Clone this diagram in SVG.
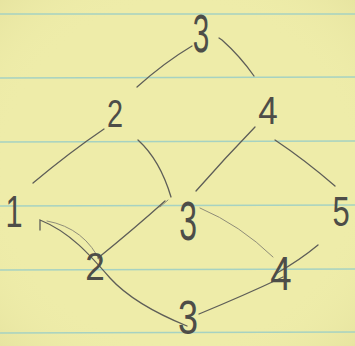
<svg xmlns="http://www.w3.org/2000/svg" width="355" height="346" viewBox="0 0 355 346">
<defs>
<style>
.paper{fill:#eeeca9}
.rule{stroke:#a6d2c2;stroke-width:1.3}
.num{font-family:"Liberation Sans",Arial,sans-serif;fill:#4d4d48;text-anchor:middle}
.pen{fill:none;stroke:#5e5e58;stroke-width:1.3;stroke-linecap:round}
.light{fill:none;stroke:#8f8d78;stroke-width:1;stroke-linecap:round}
</style>
<radialGradient id="g" cx="50%" cy="50%" r="75%">
<stop offset="0.65" stop-color="#eeeca8" stop-opacity="0"/>
<stop offset="1" stop-color="#d8d48e" stop-opacity="0.45"/>
</radialGradient>
</defs>
<rect class="paper" x="0" y="0" width="355" height="346"/>
<rect x="0" y="0" width="355" height="346" fill="url(#g)"/>
<g id="rules">
<line class="rule" x1="0" y1="14" x2="355" y2="14"/>
<line class="rule" x1="0" y1="78" x2="355" y2="77"/>
<line class="rule" x1="0" y1="142" x2="355" y2="141"/>
<line class="rule" x1="0" y1="206" x2="355" y2="205"/>
<line class="rule" x1="0" y1="270" x2="355" y2="269"/>
<line class="rule" x1="0" y1="333" x2="355" y2="332"/>
</g>
<g id="connectors">
<path class="pen" d="M137,87 Q165,62 192,46"/>
<path class="pen" d="M219,38 L222,40 Q240,56 254,76"/>
<path class="pen" d="M104,129 Q70,152 33,183"/>
<path class="pen" d="M138,140 Q160,160 171,197"/>
<path class="pen" d="M255,127 Q225,158 196,191"/>
<path class="pen" d="M275,140 Q305,160 335,186"/>
<path class="pen" d="M40,230 L40,220 C70,232 90,255 110,278 C130,300 160,315 187,326"/>
<path class="light" d="M47,221 Q85,228 101,263"/>
<path class="pen" d="M98,258 Q135,228 165,201"/>
<path class="light" d="M160,207 L168,200"/>
<path class="light" d="M200,208 Q240,225 273,257"/>
<path class="pen" d="M199,314 Q245,295 283,277"/>
<path class="pen" d="M277,273 Q300,260 318,245"/>
</g>
<g id="n-top3"><text class="num" font-size="54" transform="translate(201,52) scale(0.55,1)">3</text></g>
<g id="n-2a"><text class="num" font-size="38" transform="translate(115,127) scale(0.76,1)">2</text></g>
<g id="n-4a"><text class="num" font-size="39" transform="translate(268,124) scale(0.9,1)">4</text></g>
<g id="n-1"><text class="num" font-size="44" transform="translate(14,227) scale(0.7,1)">1</text></g>
<g id="n-3mid"><text class="num" font-size="55" transform="translate(188,240) scale(0.58,1)">3</text></g>
<g id="n-5"><text class="num" font-size="43" transform="translate(341,226) scale(0.72,1)">5</text></g>
<g id="n-2b"><text class="num" font-size="39" transform="translate(95,280) scale(0.9,1)">2</text></g>
<g id="n-4b"><text class="num" font-size="48" transform="translate(281,290) scale(0.8,1)">4</text></g>
<g id="n-3bot"><text class="num" font-size="48" transform="translate(188,334) scale(0.75,1)">3</text></g>
</svg>
